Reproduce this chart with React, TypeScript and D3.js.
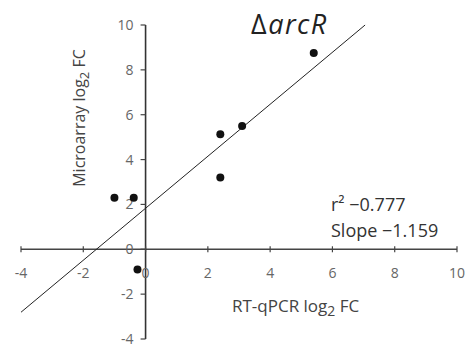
import React, { useEffect, useRef } from 'react';
import * as d3 from 'd3';

// RT-qPCR vs microarray log2 fold changes
const qpcrFC = [5.4, 3.1, 2.4, 2.4, -1.0, -0.38, -0.26];
const arrayFC = [8.75, 5.5, 5.13, 3.2, 2.3, 2.3, -0.9];
const xTicks = [-4, -2, 0, 2, 4, 6, 8, 10];
const yTicks = [-4, -2, 0, 2, 4, 6, 8, 10];
const fitSlope = 1.159;
const fitIntercept = 1.83;
const statLines = ['r\u00B2 \u22120.777', 'Slope \u22121.159'];

const W = 474;
const H = 350;
const font = '"Open Sans", "DejaVu Sans", sans-serif';

const App = () => {
    const svgRef = useRef<SVGSVGElement | null>(null);

    useEffect(() => {
        const svg = d3.select(svgRef.current);
        svg.selectAll('*').remove();

        const x = d3.scaleLinear().domain([-4, 10]).range([21, 457]);
        const y = d3.scaleLinear().domain([-4, 10]).range([339, 25]);
        const x0 = x(0);
        const y0 = y(0);

        svg.append('rect').attr('width', W).attr('height', H).attr('fill', '#fff');

        // axes through the origin
        svg.append('line')
            .attr('x1', x(-4)).attr('x2', x(10))
            .attr('y1', y0).attr('y2', y0)
            .attr('stroke', '#444').attr('stroke-width', 1.4);
        svg.append('line')
            .attr('x1', x0).attr('x2', x0)
            .attr('y1', y(10)).attr('y2', y(-4))
            .attr('stroke', '#333').attr('stroke-width', 1.6);

        // x ticks + labels
        svg.selectAll('.xt')
            .data(xTicks)
            .enter()
            .append('line')
            .attr('x1', (d) => x(d)).attr('x2', (d) => x(d))
            .attr('y1', y0 - 3).attr('y2', y0 + 3)
            .attr('stroke', '#444').attr('stroke-width', 1.2);
        svg.selectAll('.xl')
            .data(xTicks)
            .enter()
            .append('text')
            .attr('x', (d) => x(d))
            .attr('y', y0 + 29)
            .attr('text-anchor', 'middle')
            .style('font-family', font)
            .style('font-size', '14px')
            .style('fill', '#666')
            .text((d) => d);

        // y ticks + labels
        svg.selectAll('.yt')
            .data(yTicks)
            .enter()
            .append('line')
            .attr('x1', x0 - 5).attr('x2', x0)
            .attr('y1', (d) => y(d)).attr('y2', (d) => y(d))
            .attr('stroke', '#444').attr('stroke-width', 1.2);
        svg.selectAll('.yl')
            .data(yTicks)
            .enter()
            .append('text')
            .attr('x', x0 - 12)
            .attr('y', (d) => y(d) + 5)
            .attr('text-anchor', 'end')
            .style('font-family', font)
            .style('font-size', '14px')
            .style('fill', '#666')
            .text((d) => d);

        // regression line, clipped at the top of the plot
        const xEnd = (10 - fitIntercept) / fitSlope;
        svg.append('line')
            .attr('x1', x(-4)).attr('y1', y(fitIntercept - 4 * fitSlope))
            .attr('x2', x(xEnd)).attr('y2', y(10))
            .attr('stroke', '#222').attr('stroke-width', 1);

        // points
        svg.selectAll('circle')
            .data(qpcrFC.map((v, i) => [v, arrayFC[i]]))
            .enter()
            .append('circle')
            .attr('cx', (d) => x(d[0]))
            .attr('cy', (d) => y(d[1]))
            .attr('r', 4)
            .attr('fill', '#111');

        // title
        const title = svg.append('text')
            .attr('x', 251).attr('y', 34)
            .style('font-family', font)
            .style('font-size', '27px')
            .style('letter-spacing', '1.5px')
            .style('fill', '#222');
        title.append('tspan').text('\u0394');
        title.append('tspan').style('font-style', 'italic').text('arcR');

        // stats
        svg.selectAll('.st')
            .data(statLines)
            .enter()
            .append('text')
            .attr('x', 331)
            .attr('y', (d, i) => 211 + i * 26)
            .style('font-family', font)
            .style('font-size', '18px')
            .style('fill', '#333')
            .text((d) => d);

        // axis titles
        const xt = svg.append('text')
            .attr('x', 232).attr('y', 312)
            .style('font-family', font)
            .style('font-size', '17px')
            .style('fill', '#444');
        xt.append('tspan').text('RT-qPCR log');
        xt.append('tspan').attr('dy', 4).style('font-size', '14px').text('2');
        xt.append('tspan').attr('dy', -4).text(' FC');

        const yt = svg.append('text')
            .attr('transform', 'translate(85,118) rotate(-90)')
            .attr('text-anchor', 'middle')
            .style('font-family', font)
            .style('font-size', '16px')
            .style('fill', '#444');
        yt.append('tspan').text('Microarray log');
        yt.append('tspan').attr('dy', 4).style('font-size', '13px').text('2');
        yt.append('tspan').attr('dy', -4).text(' FC');
    }, []);

    return (
        <svg
            ref={svgRef}
            width={W}
            height={H}
            style={{ position: 'absolute', left: 0, top: 0, display: 'block' }}
        />
    );
};

export default App;
